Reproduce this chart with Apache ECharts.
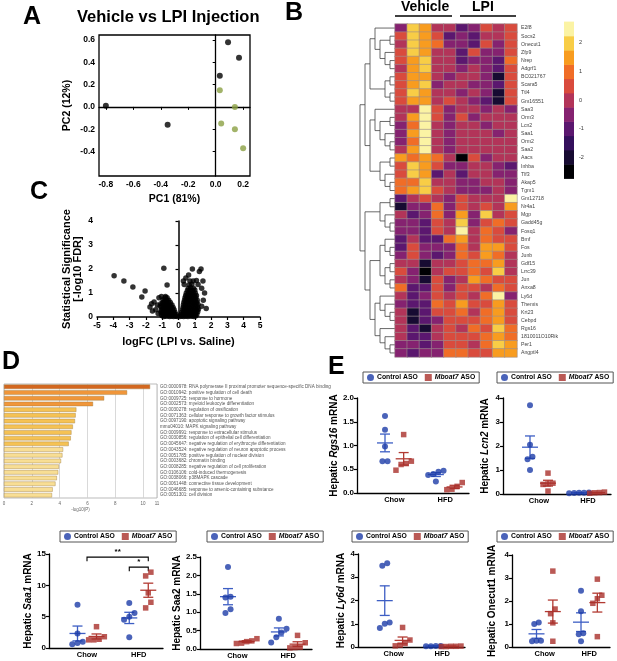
<!DOCTYPE html>
<html>
<head>
<meta charset="utf-8">
<script src="https://cdn.jsdelivr.net/npm/echarts@6/dist/echarts.min.js"></script>
<style>
html,body{margin:0;padding:0;background:#fff}
#main{width:617px;height:661px}
</style>
</head>
<body>
<div id="main"></div>
<script>
var FONT = 'Liberation Sans, Arial, sans-serif';

// ---- A: PCA ----
var pcaVehicle = [[-0.8, 0.01], [-0.35, -0.16], [0.09, 0.58], [0.17, 0.44], [0.03, 0.28]];
var pcaLPI = [[0.03, 0.15], [0.14, 0.0], [0.04, -0.15], [0.14, -0.2], [0.2, -0.37]];
var pcaTicksX = [-0.8, -0.6, -0.4, -0.2, 0.0, 0.2];
var pcaTicksY = [-0.4, -0.2, 0.0, 0.2, 0.4, 0.6];

// ---- B: heatmap ----
var genes = ['E2f8', 'Socs2', 'Onecut1', 'Zfp9', 'Nrep', 'Adgrf1', 'BC021767', 'Scara5', 'Ttl4', 'Gm16551',
	'Saa3', 'Orm3', 'Lcn2', 'Saa1', 'Orm2', 'Saa2', 'Aacs', 'Inhba', 'Tlf3', 'Akap5', 'Tgm1',
	'Gm12718', 'Nr4a1', 'Mgp', 'Gadd45g', 'Fosq1', 'Bmf', 'Fos', 'Junb', 'Gdf15', 'Lrrc39', 'Jun',
	'Anxa8', 'Ly6d', 'Themis', 'Krt23', 'Cebpd', 'Rgs16', '1810011O10Rik', 'Per1', 'Angptl4'];
var samples = ['V1', 'V2', 'V3', 'V4', 'V5', 'L1', 'L2', 'L3', 'L4', 'L5'];
var zScores = [
	[-0.5, 2, 1.5, 0, 0, -1, -0.5, 0.5, 0, 0.5],
	[0.5, 2, 1.5, 0.5, -1, -0.5, -1, 0, 0, 0.5],
	[0, 2, 1.5, 1, -0.5, -0.5, -1, 0.5, -0.5, 0.5],
	[0.5, 2, 1.5, 0, 0, -1, 0.5, -0.5, -0.5, 0.5],
	[0.5, 1.5, 2, 0, 0, -1, -0.5, -0.5, -1, 1],
	[0, 1.5, 2, 0, 0, -0.5, 0, -0.5, -1, 0.5],
	[0.5, 1.5, 1.5, 0, -0.5, 0, 0, -0.5, -2, 0.5],
	[0.5, 1.5, 2, -0.5, 0, 0, -0.5, -0.5, -1, 0.5],
	[0.5, 2, 1.5, 0, 0, -0.5, 0, -0.5, -2, 0.5],
	[0.5, 1.5, 1.5, 0, 0.5, 0, -0.5, -1, -2, 0.5],
	[0, 0, 2.5, 0.5, -0.5, 0, 0, -0.5, 0, -0.5],
	[0, 1.5, 2.5, 0.5, -0.5, 0.5, -0.5, 0, 0, 0],
	[-0.5, 1, 2.5, 0, -0.5, 0, 0, -0.5, 0, 0],
	[-0.5, 1.5, 2.5, 0, -0.5, 0, 0, 0, -0.5, 0],
	[-0.5, 1, 2.5, 0, -0.5, 0, 0, 0, 0, 0],
	[0, 1.5, 2.5, 0, -0.5, 0, 0, 0, 0, 0],
	[1.5, 1, 1.5, 1, 0, -2.5, 0.5, -0.5, 0, 0],
	[0.5, 2, 1.5, 0.5, -0.5, -0.5, 0, 0, -0.5, -1],
	[0.5, 2, 1.5, -1, 0, -1, 0, 0, -0.5, -0.5],
	[1, 1, 2, 0, 0, -0.5, -0.5, 0, 0, -0.5],
	[1, 1.5, 2, 0.5, 0, -0.5, -0.5, -0.5, 0, -0.5],
	[-1, 0, 0.5, 0, -0.5, 0.5, 0, 0, 0, 2.5],
	[-2, -0.5, -0.5, 1, -0.5, 0.5, 0, 0.5, 0, 1.5],
	[0, -1, -0.5, 1, -0.5, 1.5, -0.5, 2, 0, 0.5],
	[-0.5, -0.5, -1, 0.5, 0, 2, -0.5, 0.5, 1, 0.5],
	[-0.5, -0.5, -1, 0.5, 0, 2.5, 0, 1, 0.5, -0.5],
	[-1, 0, -1, -1, 1, 1.5, 0, 1, 0.5, 0.5],
	[-1, 0.5, -0.5, -0.5, -0.5, 1, 0, 1.5, 1.5, 0.5],
	[-0.5, 0.5, -0.5, -1, -0.5, 1, 0.5, 1.5, 1, 0],
	[0, 0, -2, 0, 0, 0.5, 1, 1, 1.5, 0],
	[0.5, -0.5, -2.5, 0, 0.5, 0.5, 1, 0.5, 2, 0],
	[0, -0.5, -2, 0.5, -0.5, 0, 1.5, 1, 0.5, 0.5],
	[1, -1, -1, 0.5, -0.5, 0.5, 0.5, 0, 1, 0.5],
	[0, -1, -0.5, 0.5, 0, 0.5, 0, 1, 2.5, -0.5],
	[-0.5, -1, -1, 1, 0.5, 1.5, 0.5, 0.5, 1.5, 0.5],
	[0, -2, -1, 0.5, 0.5, 1, 0, 1, 1.5, 0.5],
	[0, -2, -1, -0.5, 0.5, 0.5, 0.5, 1, 1.5, 0.5],
	[0, -1, -2, 0, 0.5, 0, 1, 0.5, 2, 1],
	[0, -1, -1, 0, 0.5, 0.5, 0.5, 1, 1.5, 1],
	[-0.5, -0.5, -1, -0.5, 0.5, 0.5, 0, 1, 2, 1.5],
	[-0.5, -1, -0.5, -0.5, 1, 1, 0.5, 0.5, 1.5, 1.5]
];
// row clustering, leaves are row indices
var dendroTree = [
	[[[0, [[1, 2], [3, [4, 5]]]], [[6, 7], [8, 9]]],
	 [[10, [[11, 12], [13, [14, 15]]]], [[16, 17], [18, [19, 20]]]]],
	[[[21, 22], [23, [24, 25]]],
	 [[[26, [27, 28]], [[29, 30], [31, 32]]],
	  [[33, [34, [35, 36]]], [37, [38, [39, 40]]]]]]
];
var heatLevels = [-2.5, -2, -1.5, -1, -0.5, 0, 0.5, 1, 1.5, 2, 2.5];
var heatColors = ['#000004', '#170b32', '#34105c', '#5b176f', '#852270', '#b23459', '#d94b3d', '#f06d27', '#f89c1f', '#f8cd46', '#fbf3a4'];
var heatTicks = [-2, -1, 0, 1, 2];

// ---- C: volcano ----
var volcanoPoints = [
	[-3.95, 1.72], [-3.35, 1.5], [-2.8, 1.25], [-2.05, 1.08], [-2.25, 0.83], [-0.9, 2.03], [-0.7, 1.33],
	[-1.75, 0.42], [-1.65, 0.55], [-1.5, 0.63], [-1.3, 0.5], [-1.2, 0.8], [-1.05, 0.85], [-0.8, 0.85],
	[-1.4, 0.3], [-1.6, 0.25], [-1.25, 0.15],
	[-0.08, 0.02], [-0.18, 0.03], [-0.3, 0.02], [-0.42, 0.03], [-0.55, 0.02], [-0.65, 0.04], [-0.78, 0.03], [-0.9, 0.02], [-1.0, 0.05],
	[-0.15, 0.1], [-0.25, 0.12], [-0.36, 0.1], [-0.47, 0.11], [-0.58, 0.1], [-0.68, 0.12], [-0.8, 0.1], [-0.92, 0.12], [-1.05, 0.1],
	[-0.22, 0.2], [-0.32, 0.21], [-0.43, 0.19], [-0.54, 0.2], [-0.66, 0.22], [-0.77, 0.2], [-0.88, 0.21], [-0.98, 0.19], [-1.08, 0.22],
	[-0.27, 0.3], [-0.38, 0.31], [-0.5, 0.29], [-0.61, 0.3], [-0.72, 0.32], [-0.83, 0.3], [-0.94, 0.31], [-1.05, 0.3],
	[-0.33, 0.4], [-0.45, 0.41], [-0.56, 0.39], [-0.67, 0.4], [-0.78, 0.42], [-0.9, 0.4], [-1.02, 0.41], [-1.12, 0.45],
	[-0.4, 0.5], [-0.52, 0.51], [-0.63, 0.5], [-0.75, 0.52], [-0.86, 0.5], [-0.98, 0.52], [-1.08, 0.55],
	[-0.5, 0.6], [-0.62, 0.61], [-0.73, 0.6], [-0.85, 0.62], [-0.96, 0.6],
	[-0.6, 0.7], [-0.72, 0.71], [-0.83, 0.7], [-0.95, 0.72], [-0.7, 0.8], [-0.82, 0.8],
	[0.08, 0.02], [0.2, 0.03], [0.32, 0.02], [0.45, 0.03], [0.58, 0.02], [0.7, 0.04], [0.82, 0.03], [0.95, 0.02], [1.05, 0.04],
	[0.15, 0.1], [0.27, 0.12], [0.4, 0.1], [0.52, 0.11], [0.65, 0.1], [0.77, 0.12], [0.9, 0.1], [1.02, 0.11], [1.12, 0.1],
	[0.2, 0.2], [0.32, 0.21], [0.44, 0.19], [0.57, 0.2], [0.7, 0.22], [0.82, 0.2], [0.95, 0.21], [1.07, 0.19], [1.18, 0.22],
	[0.25, 0.3], [0.37, 0.31], [0.5, 0.29], [0.62, 0.3], [0.75, 0.32], [0.88, 0.3], [1.0, 0.31], [1.12, 0.3], [1.22, 0.32],
	[0.28, 0.4], [0.4, 0.41], [0.53, 0.39], [0.66, 0.4], [0.79, 0.42], [0.92, 0.4], [1.05, 0.41], [1.17, 0.4],
	[0.3, 0.5], [0.43, 0.51], [0.56, 0.5], [0.69, 0.52], [0.82, 0.5], [0.95, 0.52], [1.08, 0.5], [1.2, 0.52],
	[0.33, 0.6], [0.46, 0.61], [0.6, 0.6], [0.73, 0.62], [0.86, 0.6], [0.99, 0.61], [1.12, 0.6],
	[0.37, 0.7], [0.5, 0.71], [0.63, 0.7], [0.76, 0.72], [0.9, 0.7], [1.03, 0.71], [1.15, 0.7],
	[0.4, 0.8], [0.53, 0.81], [0.66, 0.8], [0.8, 0.82], [0.93, 0.8], [1.06, 0.81],
	[0.44, 0.9], [0.57, 0.91], [0.7, 0.9], [0.84, 0.92], [0.97, 0.9], [1.1, 0.9],
	[0.48, 1.0], [0.62, 1.01], [0.76, 1.0], [0.9, 1.02], [1.03, 1.0],
	[0.55, 1.1], [0.7, 1.11], [0.85, 1.1], [1.0, 1.12], [0.6, 1.2], [0.75, 1.22], [0.92, 1.2],
	[0.35, 1.35], [0.66, 1.33], [0.82, 1.36], [1.2, 1.35], [0.7, 1.5], [0.9, 1.5], [1.1, 1.52],
	[0.3, 1.5], [0.45, 1.62], [0.62, 1.75], [0.85, 2.0], [1.28, 1.9], [1.38, 2.0], [1.5, 1.5],
	[1.42, 1.2], [1.6, 1.0], [1.52, 0.7], [1.42, 0.45], [1.7, 0.35]
];

// ---- D: GO enrichment ----
var goTerms = [
	'GO:0000978: RNA polymerase II proximal promoter sequence-specific DNA binding',
	'GO:0010942: positive regulation of cell death',
	'GO:0009725: response to hormone',
	'GO:0002573: myeloid leukocyte differentiation',
	'GO:0030278: regulation of ossification',
	'GO:0071363: cellular response to growth factor stimulus',
	'GO:0097190: apoptotic signaling pathway',
	'mmu04010: MAPK signaling pathway',
	'GO:0009991: response to extracellular stimulus',
	'GO:0030856: regulation of epithelial cell differentiation',
	'GO:0045647: negative regulation of erythrocyte differentiation',
	'GO:0043524: negative regulation of neuron apoptotic process',
	'GO:0051785: positive regulation of nuclear division',
	'GO:0003682: chromatin binding',
	'GO:0008285: negative regulation of cell proliferation',
	'GO:0106106: cold-induced thermogenesis',
	'GO:0038066: p38MAPK cascade',
	'GO:0061448: connective tissue development',
	'GO:0046685: response to arsenic-containing substance',
	'GO:0051301: cell division'
];
var goLogP = [10.5, 8.85, 7.2, 6.4, 5.2, 5.15, 5.1, 4.95, 4.85, 4.8, 4.65, 4.25, 4.2, 4.1, 3.95, 3.9, 3.8, 3.7, 3.5, 3.45];

// ---- E: qPCR (Chow, HFD) ----
var diets = ['Chow', 'HFD'];
var rgs16Control = [[1.62, 1.33, 0.98, 0.67, 0.67], [0.47, 0.45, 0.4, 0.38, 0.24]];
var rgs16Mboat7 = [[1.23, 0.67, 0.62, 0.6, 0.48], [0.22, 0.14, 0.08, 0.07]];
var lcn2Control = [[3.7, 2.05, 1.55, 1.45, 1.0], [0.06, 0.05, 0.04, 0.05, 0.03]];
var lcn2Mboat7 = [[0.87, 0.45, 0.42, 0.4, 0.12], [0.08, 0.05, 0.03, 0.06]];
var saa1Control = [[6.9, 2.3, 1.0, 0.8, 0.6], [7.2, 5.6, 5.0, 4.5, 1.7]];
var saa1Mboat7 = [[3.4, 1.8, 1.4, 1.3, 1.3], [12.1, 11.5, 8.8, 7.3, 6.4]];
var saa2Control = [[2.23, 1.42, 1.4, 1.08, 0.98], [0.82, 0.55, 0.45, 0.32, 0.18]];
var saa2Mboat7 = [[0.28, 0.22, 0.2, 0.16, 0.15], [0.37, 0.17, 0.05, 0.04, 0.03]];
var ly6dControl = [[3.6, 3.5, 1.05, 1.0, 0.82], [0.04, 0.03, 0.04, 0.03]];
var ly6dMboat7 = [[0.84, 0.3, 0.15, 0.08, 0.05], [0.03, 0.02, 0.03, 0.04, 0.02]];
var onecut1Control = [[1.07, 1.0, 0.27, 0.27, 0.25], [2.45, 1.55, 0.6, 0.55, 0.25]];
var onecut1Mboat7 = [[3.3, 1.65, 1.45, 1.05, 0.25], [2.95, 2.25, 2.1, 1.9, 0.45]];
var saa1Sig = [[4, 10.45, 14.5], [8.45, 10.45, 12.9]];
var saa1SigText = ['**', '*'];

var BLUE = '#1d3ca8', RED = '#a9302b', BLUE_L = '#3d5ec4', RED_L = '#b23a32';

var chart = echarts.init(document.getElementById('main'));
var grids = [], xAxes = [], yAxes = [], series = [], legends = [], graphics = [];

function addGrid(l, t, w, h, extra) {
	var g = { left: l, top: t, width: w, height: h, containLabel: false, outerBoundsMode: 'none' };
	if (extra) for (var k in extra) g[k] = extra[k];
	grids.push(g);
	return grids.length - 1;
}
function boldLabel(size, extra) {
	var o = { fontSize: size, fontWeight: 'bold', color: '#000', fontFamily: FONT };
	if (extra) for (var k in extra) o[k] = extra[k];
	return o;
}
function letter(t, x, y) {
	graphics.push({ type: 'text', left: x, top: y, style: { text: t, font: 'bold 25px ' + FONT, fill: '#000' } });
}

// ===== A =====
var gA = addGrid(99, 35, 151, 141, { show: true, borderColor: '#000', borderWidth: 1.3 });
xAxes.push({
	gridIndex: gA, type: 'value', min: -0.85, max: 0.25,
	axisLine: { lineStyle: { color: '#000', width: 1.3 } },
	axisTick: { customValues: pcaTicksX, length: 3, lineStyle: { color: '#000' } },
	axisLabel: boldLabel(8.5, { customValues: pcaTicksX, margin: 4, formatter: function (v) { return v.toFixed(1); } }),
	splitLine: { show: false },
	name: 'PC1 (81%)', nameLocation: 'middle', nameGap: 18, nameTextStyle: boldLabel(10.5)
});
yAxes.push({
	gridIndex: gA, type: 'value', min: -0.62, max: 0.645,
	axisLine: { lineStyle: { color: '#000', width: 1.3 } },
	axisTick: { customValues: pcaTicksY, length: 3, lineStyle: { color: '#000' } },
	axisLabel: boldLabel(8.5, { customValues: pcaTicksY, margin: 4, formatter: function (v) { return v.toFixed(1); } }),
	splitLine: { show: false },
	name: 'PC2 (12%)', nameLocation: 'middle', nameGap: 26, nameTextStyle: boldLabel(10.5)
});
series.push({ name: 'Vehicle', type: 'scatter', xAxisIndex: xAxes.length - 1, yAxisIndex: yAxes.length - 1,
	data: pcaVehicle, symbolSize: 6, itemStyle: { color: '#000' } });
series.push({ name: 'LPI', type: 'scatter', xAxisIndex: xAxes.length - 1, yAxisIndex: yAxes.length - 1,
	data: pcaLPI, symbolSize: 6, itemStyle: { color: '#8ba044' } });
graphics.push({ type: 'text', left: 77, top: 9, style: { text: 'Vehicle vs LPI Injection', font: 'bold 16.5px ' + FONT, fill: '#000' } });
letter('A', 23, 5);

// ===== B =====
var HM_TOP = 24, HM_H = 333;
// dendrogram
var dendroNodes = [];
var dendroRoot = (function walk(node) {
	if (typeof node === 'number') return { y: node, h: 0 };
	var a = walk(node[0]), b = walk(node[1]);
	var h = Math.max(a.h, b.h) + 1;
	dendroNodes.push([a.y, b.y, h, a.h, b.h]);
	return { y: (a.y + b.y) / 2, h: h };
})(dendroTree);
var gDen = addGrid(360, HM_TOP, 35, HM_H);
xAxes.push({ gridIndex: gDen, type: 'value', min: 0, max: dendroRoot.h, inverse: true, show: false });
yAxes.push({ gridIndex: gDen, type: 'value', min: -0.5, max: genes.length - 0.5, inverse: true, show: false });
series.push({
	type: 'custom', xAxisIndex: xAxes.length - 1, yAxisIndex: yAxes.length - 1, silent: true,
	data: dendroNodes, encode: { x: 2, y: 0 },
	renderItem: function (params, api) {
		var p1 = api.coord([api.value(3), api.value(0)]);
		var p2 = api.coord([api.value(2), api.value(0)]);
		var p3 = api.coord([api.value(2), api.value(1)]);
		var p4 = api.coord([api.value(4), api.value(1)]);
		return { type: 'polyline', shape: { points: [p1, p2, p3, p4] }, style: { stroke: '#444', fill: null, lineWidth: 0.8 } };
	}
});
// heatmap
var gHm = addGrid(395, HM_TOP, 122, HM_H);
xAxes.push({ gridIndex: gHm, type: 'category', data: samples, show: false });
yAxes.push({
	gridIndex: gHm, type: 'category', data: genes, inverse: true, position: 'right',
	axisLine: { show: false }, axisTick: { show: false },
	axisLabel: { fontSize: 5.2, color: '#444', margin: 4, fontFamily: FONT, interval: 0 }
});
var heatData = [];
zScores.forEach(function (row, r) {
	row.forEach(function (v, c) { heatData.push([c, r, v]); });
});
var heatSeriesIndex = series.length;
series.push({
	type: 'heatmap', xAxisIndex: xAxes.length - 1, yAxisIndex: yAxes.length - 1,
	data: heatData, itemStyle: { borderColor: '#9d8f8f', borderWidth: 0.6 }
});
var heatPieces = heatLevels.map(function (v, i) {
	return {
		min: i === 0 ? -99 : v - 0.25,
		max: i === heatLevels.length - 1 ? 99 : v + 0.25,
		color: heatColors[i]
	};
});
// colour key
var gKey = addGrid(564, 21.6, 10, 156.8);
xAxes.push({ gridIndex: gKey, type: 'value', min: 0, max: 1, show: false });
yAxes.push({
	gridIndex: gKey, type: 'value', min: -2.75, max: 2.75, position: 'right',
	axisLine: { show: false }, axisTick: { show: false }, splitLine: { show: false },
	axisLabel: { customValues: heatTicks, fontSize: 5.5, color: '#333', margin: 5, fontFamily: FONT }
});
series.push({
	type: 'custom', xAxisIndex: xAxes.length - 1, yAxisIndex: yAxes.length - 1, silent: true,
	data: heatLevels.map(function (v) { return [0.5, v]; }),
	renderItem: function (params, api) {
		var v = api.value(1);
		var a = api.coord([0, v + 0.25]), b = api.coord([1, v - 0.25]);
		return { type: 'rect', shape: { x: a[0], y: a[1], width: b[0] - a[0], height: b[1] - a[1] + 0.5 },
			style: { fill: heatColors[params.dataIndex] } };
	}
});
graphics.push({ type: 'text', left: 401, top: 0, style: { text: 'Vehicle', font: 'bold 14px ' + FONT, fill: '#000' } });
graphics.push({ type: 'text', left: 472, top: 0, style: { text: 'LPI', font: 'bold 14px ' + FONT, fill: '#000' } });
graphics.push({ type: 'line', shape: { x1: 395, y1: 16, x2: 452, y2: 16 }, style: { stroke: '#000', lineWidth: 1.5 } });
graphics.push({ type: 'line', shape: { x1: 460, y1: 16, x2: 516, y2: 16 }, style: { stroke: '#000', lineWidth: 1.5 } });
letter('B', 285, 1);

// ===== C =====
var gC = addGrid(97, 221, 163, 96);
xAxes.push({
	gridIndex: gC, type: 'value', min: -5, max: 5, interval: 1,
	axisLine: { onZero: false, lineStyle: { color: '#000', width: 1.5 } },
	axisTick: { length: 3, lineStyle: { color: '#000', width: 1.2 } },
	axisLabel: boldLabel(8.5, { margin: 4 }), splitLine: { show: false },
	name: 'logFC (LPI vs. Saline)', nameLocation: 'middle', nameGap: 19, nameTextStyle: boldLabel(11)
});
yAxes.push({
	gridIndex: gC, type: 'value', min: 0, max: 4, interval: 1,
	axisLine: { lineStyle: { color: '#000', width: 1.5 } },
	axisTick: { length: 3, lineStyle: { color: '#000', width: 1.2 } },
	axisLabel: boldLabel(8.5, { margin: 4 }), splitLine: { show: false },
	name: 'Statistical Significance\n[-log10 FDR]', nameLocation: 'middle', nameGap: 14,
	nameTextStyle: boldLabel(11, { lineHeight: 11 })
});
series.push({ type: 'scatter', xAxisIndex: xAxes.length - 1, yAxisIndex: yAxes.length - 1,
	data: volcanoPoints, symbolSize: 5.5, itemStyle: { color: '#000' }, clip: false });
letter('C', 30, 180);

// ===== D =====
var gD = addGrid(4, 384, 153, 114, { show: true, borderColor: '#aaa', borderWidth: 0.8 });
xAxes.push({
	gridIndex: gD, type: 'value', min: 0, max: 11, interval: 2,
	axisLine: { show: false }, axisTick: { show: false },
	axisLabel: { fontSize: 4.5, color: '#666', margin: 3, fontFamily: FONT },
	splitLine: { show: true, lineStyle: { color: '#cfcfcf', width: 0.8 } },
	name: '-log10(P)', nameLocation: 'middle', nameGap: 9, nameTextStyle: { fontSize: 4.5, color: '#666', fontFamily: FONT }
});
yAxes.push({
	gridIndex: gD, type: 'category', data: goTerms, inverse: true, position: 'right',
	axisLine: { show: false }, axisTick: { show: false },
	axisLabel: { fontSize: 4.6, color: '#555', margin: 3, interval: 0, fontFamily: FONT }
});
series.push({
	type: 'bar', xAxisIndex: xAxes.length - 1, yAxisIndex: yAxes.length - 1, barCategoryGap: '22%',
	data: goLogP,
	itemStyle: {
		borderColor: '#9c7a3c', borderWidth: 0.4,
		color: function (p) {
			if (p.value > 10) return '#d4671f';
			if (p.value > 6) return '#f0963a';
			if (p.value > 4.5) return '#f5c254';
			return '#f8de94';
		}
	}
});
letter('D', 2, 350);

// ===== E =====
letter('E', 328, 355);
var groupCenters = [4, 9.45];
var ePanels = [
	{ gene: 'Rgs16', italic: true, ctrl: rgs16Control, mbo: rgs16Mboat7, max: 2, step: 0.5, dec: 1, box: [357, 398, 112, 95], key: [363, 372], gap: 17 },
	{ gene: 'Lcn2', italic: true, ctrl: lcn2Control, mbo: lcn2Mboat7, max: 4, step: 1, dec: 0, box: [503, 398, 108, 96], key: [497, 372], gap: 13 },
	{ gene: 'Saa1', italic: true, ctrl: saa1Control, mbo: saa1Mboat7, max: 15, step: 5, dec: 0, box: [49, 554, 114, 94], key: [60, 531], gap: 12, sig: true },
	{ gene: 'Saa2', italic: false, ctrl: saa2Control, mbo: saa2Mboat7, max: 2.5, step: 0.5, dec: 1, box: [200, 557, 112, 92], key: [207, 531], gap: 9 },
	{ gene: 'Ly6d', italic: true, ctrl: ly6dControl, mbo: ly6dMboat7, max: 4, step: 1, dec: 0, box: [358, 554, 107, 93], key: [352, 531], gap: 12 },
	{ gene: 'Onecut1', italic: false, ctrl: onecut1Control, mbo: onecut1Mboat7, max: 4, step: 1, dec: 0, box: [512, 555, 98, 92], key: [497, 531], gap: 15 }
];

function spread(values, x, thr, step) {
	var order = values.map(function (v, i) { return i; }).sort(function (a, b) { return values[a] - values[b]; });
	var out = [], cluster = [];
	function flush() {
		cluster.forEach(function (i, k) { out.push([x + (k - (cluster.length - 1) / 2) * step, values[i]]); });
		cluster = [];
	}
	order.forEach(function (i) {
		if (cluster.length && values[i] - values[cluster[cluster.length - 1]] > thr) flush();
		cluster.push(i);
	});
	flush();
	return out;
}
function meanSem(values) {
	var n = values.length, m = 0, s = 0;
	values.forEach(function (v) { m += v; });
	m /= n;
	values.forEach(function (v) { s += (v - m) * (v - m); });
	return [m, Math.sqrt(s / (n - 1)) / Math.sqrt(n)];
}
function renderMeanSem(params, api) {
	var x = api.value(0), m = api.value(1), s = api.value(2);
	var c = api.coord([x, m]);
	var t = api.coord([x, m + s])[1], b = api.coord([x, Math.max(m - s, 0)])[1];
	var col = api.visual('color');
	var st = { stroke: col, lineWidth: 1.3 };
	return { type: 'group', children: [
		{ type: 'line', shape: { x1: c[0] - 8, y1: c[1], x2: c[0] + 8, y2: c[1] }, style: st },
		{ type: 'line', shape: { x1: c[0], y1: t, x2: c[0], y2: b }, style: st },
		{ type: 'line', shape: { x1: c[0] - 5, y1: t, x2: c[0] + 5, y2: t }, style: st },
		{ type: 'line', shape: { x1: c[0] - 5, y1: b, x2: c[0] + 5, y2: b }, style: st }
	] };
}
var italicRich = { i: { fontStyle: 'italic', fontWeight: 'bold', fontSize: 10, color: '#000', fontFamily: FONT } };

ePanels.forEach(function (p) {
	var gi = addGrid(p.box[0], p.box[1], p.box[2], p.box[3]);
	xAxes.push({
		gridIndex: gi, type: 'value', min: 0, max: 12,
		axisLine: { lineStyle: { color: '#000', width: 1.3 } }, axisTick: { show: false },
		axisLabel: boldLabel(7.5, { customValues: groupCenters, margin: 3, formatter: function (v) {
			return diets[groupCenters.indexOf(v)];
		} }),
		splitLine: { show: false }
	});
	yAxes.push({
		gridIndex: gi, type: 'value', min: 0, max: p.max, interval: p.step,
		axisLine: { lineStyle: { color: '#000', width: 1.3 } },
		axisTick: { length: 3, lineStyle: { color: '#000', width: 1.2 } },
		axisLabel: boldLabel(8, { margin: 3, formatter: function (v) { return v.toFixed(p.dec); } }),
		splitLine: { show: false },
		name: p.italic ? 'Hepatic {i|' + p.gene + '} mRNA' : 'Hepatic ' + p.gene + ' mRNA',
		nameLocation: 'middle', nameGap: p.gap,
		nameTextStyle: boldLabel(10, { rich: italicRich })
	});
	var xi = xAxes.length - 1, yi = yAxes.length - 1;
	var thr = p.max * 0.06, step = 0.55;
	var ctrlPts = [], mboPts = [], ctrlStats = [], mboStats = [];
	diets.forEach(function (d, gIdx) {
		var cx = groupCenters[gIdx] - 1, mx = groupCenters[gIdx] + 1;
		ctrlPts = ctrlPts.concat(spread(p.ctrl[gIdx], cx, thr, step));
		mboPts = mboPts.concat(spread(p.mbo[gIdx], mx, thr, step));
		ctrlStats.push([cx].concat(meanSem(p.ctrl[gIdx])));
		mboStats.push([mx].concat(meanSem(p.mbo[gIdx])));
	});
	series.push({ type: 'custom', xAxisIndex: xi, yAxisIndex: yi, silent: true, data: ctrlStats,
		renderItem: renderMeanSem, itemStyle: { color: BLUE_L } });
	series.push({ type: 'custom', xAxisIndex: xi, yAxisIndex: yi, silent: true, data: mboStats,
		renderItem: renderMeanSem, itemStyle: { color: RED_L } });
	series.push({ name: 'Control ASO', type: 'scatter', xAxisIndex: xi, yAxisIndex: yi, data: ctrlPts,
		symbol: 'circle', symbolSize: 6, itemStyle: { color: BLUE }, clip: false });
	series.push({ name: 'Mboat7 ASO', type: 'scatter', xAxisIndex: xi, yAxisIndex: yi, data: mboPts,
		symbol: 'rect', symbolSize: 5.5, itemStyle: { color: RED }, clip: false });
	if (p.sig) {
		series.push({
			type: 'custom', xAxisIndex: xi, yAxisIndex: yi, silent: true, data: saa1Sig, clip: false,
			renderItem: function (params, api) {
				var a = api.coord([api.value(0), api.value(2)]), b = api.coord([api.value(1), api.value(2)]);
				return { type: 'group', children: [
					{ type: 'polyline', shape: { points: [[a[0], a[1] + 4], a, b, [b[0], b[1] + 4]] },
						style: { stroke: '#000', fill: null, lineWidth: 1.1 } },
					{ type: 'text', style: { text: saa1SigText[params.dataIndex], x: (a[0] + b[0]) / 2, y: a[1] - 1,
						align: 'center', verticalAlign: 'bottom', font: 'bold 8px ' + FONT, fill: '#000' } }
				] };
			}
		});
	}
	legends.push({
		left: p.key[0], top: p.key[1], orient: 'horizontal', itemWidth: 7, itemHeight: 7, itemGap: 7,
		padding: [2, 4], borderColor: '#555', borderWidth: 1, selectedMode: false,
		data: [{ name: 'Control ASO', icon: 'circle' }, { name: 'Mboat7 ASO', icon: 'rect' }],
		formatter: function (n) { return n === 'Mboat7 ASO' ? '{i|Mboat7} ASO' : n; },
		textStyle: { fontSize: 6.8, fontWeight: 'bold', color: '#000', fontFamily: FONT, padding: [0, 0, 0, -2],
			rich: { i: { fontStyle: 'italic', fontWeight: 'bold', fontSize: 6.8, color: '#000', fontFamily: FONT } } }
	});
});

chart.setOption({
	animation: false,
	textStyle: { fontFamily: FONT },
	grid: grids,
	xAxis: xAxes,
	yAxis: yAxes,
	legend: legends,
	visualMap: [{ type: 'piecewise', show: false, seriesIndex: heatSeriesIndex, dimension: 2, pieces: heatPieces }],
	graphic: graphics,
	series: series
});
</script>
</body>
</html>
